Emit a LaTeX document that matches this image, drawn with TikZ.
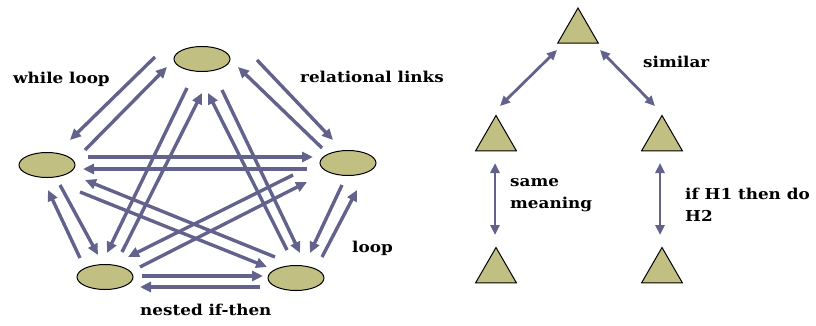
\documentclass[tikz,border=0pt]{standalone}
\usepackage{fontspec}
\setmainfont{DejaVu Serif}
\newfontfamily\labfont{DejaVu Serif}[FakeStretch=1.12]
\usetikzlibrary{arrows.meta,calc,shapes.geometric}
\definecolor{arrc}{RGB}{98,98,140}
\definecolor{olivefill}{RGB}{194,191,130}
\begin{document}
\begin{tikzpicture}[x=1pt,y=-1pt,
 ell/.style={ellipse, draw=black, line width=1pt, fill=olivefill, minimum width=56pt, minimum height=25pt, inner sep=0pt},
 tri/.style={regular polygon, regular polygon sides=3, draw=black, line width=1pt, fill=olivefill, minimum size=47pt, inner sep=0pt},
 arr/.style={draw=arrc, line width=3.4pt, -{Triangle[length=11pt,width=10pt]}},
 darr/.style={draw=arrc, line width=2.8pt, {Triangle[length=10pt,width=9pt]}-{Triangle[length=10pt,width=9pt]}},
 lbl/.style={font=\labfont\bfseries\fontsize{15}{21.5}\selectfont, inner sep=0pt, anchor=base west, align=left}]
\useasboundingbox (0,0) rectangle (816,326);
% ellipses
\node[ell] (T) at (202,59) {};
\node[ell] (L) at (47,165) {};
\node[ell] (R) at (348,163) {};
\node[ell] (BL) at (105,277) {};
\node[ell] (BR) at (296,278) {};
% arrows
\draw[arr] ($(T)+(-47,-2)$) -- ($(L)+(23,-25)$);
\draw[arr] ($(L)+(38,-15)$) -- ($(T)+(-35,8)$);
\draw[arr] ($(T)+(55,1)$) -- ($(R)+(-15,-23)$);
\draw[arr] ($(R)+(-26,-15)$) -- ($(T)+(36,8)$);
\draw[arr] ($(L)+(41,-8)$) -- ($(R)+(-35,-6)$);
\draw[arr] ($(R)+(-41,6)$) -- ($(L)+(36,4)$);
\draw[arr] ($(L)+(13,20)$) -- ($(BL)+(-7,-22)$);
\draw[arr] ($(BL)+(-25,-19)$) -- ($(L)+(1,25)$);
\draw[arr] ($(R)+(-6,22)$) -- ($(BR)+(14,-25)$);
\draw[arr] ($(BR)+(26,-21)$) -- ($(R)+(9,27)$);
\draw[arr] ($(BL)+(37,-1)$) -- ($(BR)+(-33,-2)$);
\draw[arr] ($(BR)+(-36,9)$) -- ($(BL)+(35,10)$);
\draw[arr] ($(T)+(-15,29)$) -- ($(BL)+(2,-24)$);
\draw[arr] ($(BL)+(17,-25)$) -- ($(T)+(0,34)$);
\draw[arr] ($(T)+(20,31)$) -- ($(BR)+(4,-25)$);
\draw[arr] ($(BR)+(-9,-28)$) -- ($(T)+(6,34)$);
\draw[arr] ($(L)+(33,27)$) -- ($(BR)+(-29,-11)$);
\draw[arr] ($(BR)+(-21,-21)$) -- ($(L)+(38,15)$);
\draw[arr] ($(R)+(-55,12)$) -- ($(BL)+(23,-20)$);
\draw[arr] ($(BL)+(35,-10)$) -- ($(R)+(-41,19)$);
% triangles
\node[tri] (t0) at (578,31.5) {};
\node[tri] (t1) at (496,139) {};
\node[tri] (t2) at (662,139) {};
\node[tri] (t3) at (496,271) {};
\node[tri] (t4) at (662,271) {};
\draw[darr] ($(t0)+(-21,18.5)$) -- ($(t1)+(4,-33)$);
\draw[darr] ($(t0)+(22,18.5)$) -- ($(t2)+(-7,-33)$);
\draw[darr] ($(t1)+(-1,24)$) -- ($(t3)+(-1,-36)$);
\draw[darr] ($(t2)+(-2,24)$) -- ($(t4)+(-2,-36)$);
% labels
\node[lbl] (lw) at (13,84) {while loop};
\node[lbl] (lr) at (300,83) {relational links};
\node[lbl] (ll) at (352,252) {loop};
\node[lbl] (ln) at (140,315) {nested if-then};
\node[lbl] (ls) at (643,68) {similar};
\node[lbl] (lm) at (510,208) {same\\meaning};
\node[lbl] (lh) at (685,221) {if H1 then do\\H2};
\end{tikzpicture}
\end{document}
